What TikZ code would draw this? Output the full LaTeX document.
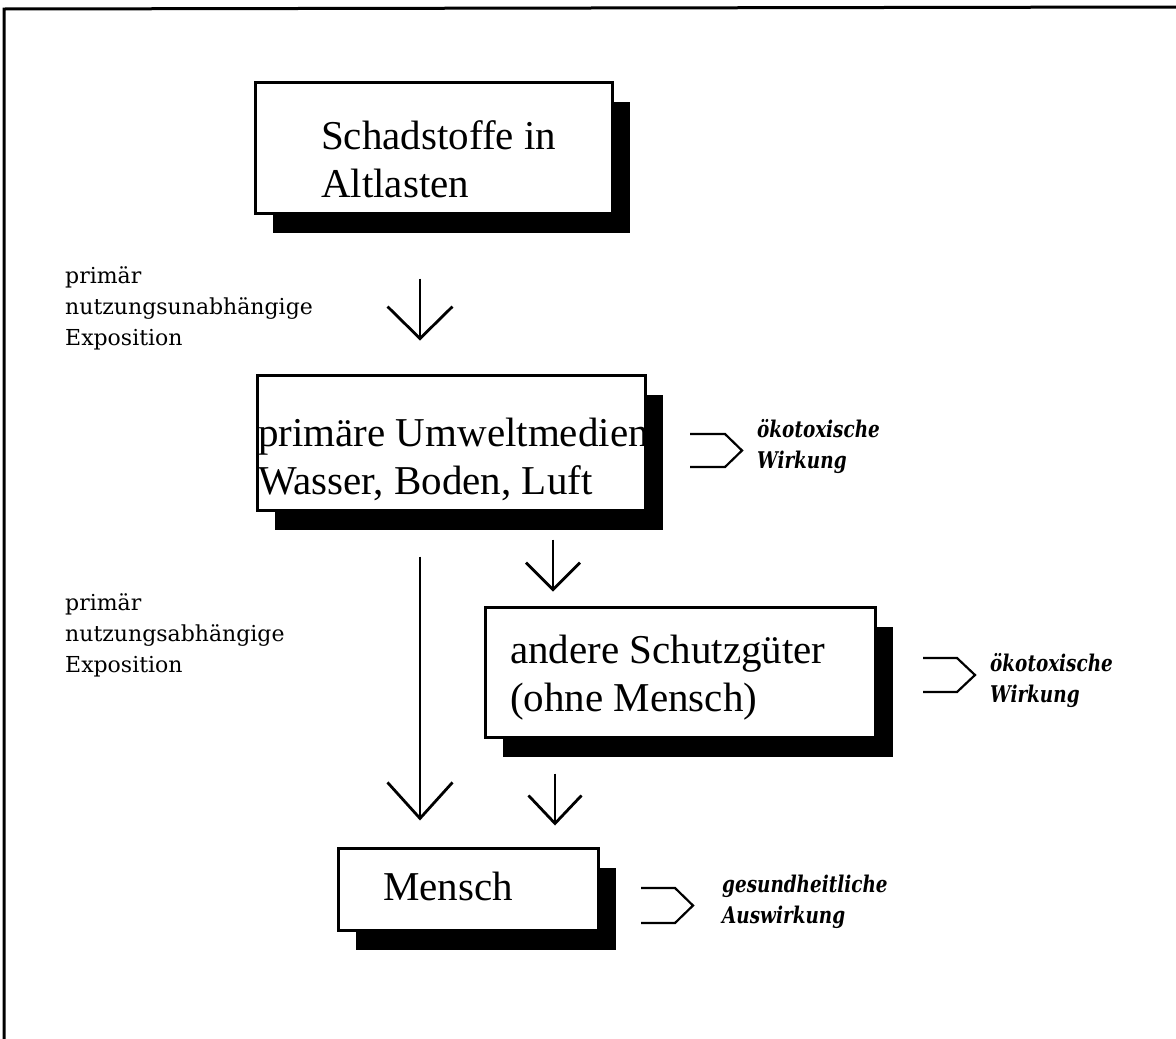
\documentclass[tikz,border=0pt]{standalone}
\usepackage{fontspec}
\setmainfont{Liberation Serif}
\newfontfamily\lblfont{DejaVu Serif}
\newfontfamily\itfont[FakeStretch=0.8]{DejaVu Serif}
\usetikzlibrary{arrows.meta,shadows}
\begin{document}
\begin{tikzpicture}[x=1pt,y=-1pt,
  boxstyle/.style={draw=black,line width=3pt,fill=white,inner sep=0pt,
    drop shadow={shadow xshift=18pt,shadow yshift=-20pt,opacity=1,fill=black}},
  boxtext/.style={anchor=base west,inner sep=0pt,align=left,
    font=\fontsize{41}{48}\selectfont},
  sidetext/.style={anchor=base west,inner sep=0pt,align=left,
    font=\lblfont\fontsize{22}{31}\selectfont},
  ittext/.style={anchor=base west,inner sep=0pt,align=left,
    font=\itfont\bfseries\itshape\fontsize{23}{31}\selectfont},
  flow/.style={line width=2.8pt},
  brk/.style={line width=2.2pt,line join=miter}
]
\useasboundingbox (0,0) rectangle (1176,1039);
% outer frame (top and left only)
\draw[line width=3pt] (4,1039) -- (4,9) -- (1176,7);

% boxes
\node[boxstyle,minimum width=357pt,minimum height=131pt] (b1) at (433.5,147.5) {};
\node[boxstyle,minimum width=388pt,minimum height=135pt] (b2) at (451,442.5) {};
\node[boxstyle,minimum width=390pt,minimum height=130pt] (b3) at (680,672) {};
\node[boxstyle,minimum width=260pt,minimum height=82pt] (b4) at (468,889) {};

% box texts (anchor = baseline of last line)
\node[boxtext] (t1) at (321,197) {Schadstoffe in\\Altlasten};
\node[boxtext] (t2) at (258,494) {primäre Umweltmedien\\Wasser, Boden, Luft};
\node[boxtext] (t3) at (510,711) {andere Schutzgüter\\(ohne Mensch)};
\node[boxtext] (t4) at (383,900) {Mensch};

% side labels
\node[sidetext] (s1) at (65,345) {primär\\nutzungsunabhängige\\Exposition};
\node[sidetext] (s2) at (65,672) {primär\\nutzungsabhängige\\Exposition};

% effect labels
\node[ittext] (e1) at (757,468) {ökotoxische\\Wirkung};
\node[ittext] (e2) at (990,702) {ökotoxische\\Wirkung};
\node[ittext] (e3) at (722,923) {gesundheitliche\\Auswirkung};

% flow arrows
\draw[flow,-{Straight Barb[length=32pt,width=65pt,line width=2.8pt]},
  shorten <=64pt,shorten >=33pt]
  ([xshift=-13.5pt]b1.south) -- ([xshift=-31pt]b2.north);
\draw[flow,-{Straight Barb[length=36pt,width=65pt,line width=2.8pt]},
  shorten <=45pt,shorten >=26pt]
  ([xshift=-31pt]b2.south) -- ([xshift=-48pt]b4.north);
\draw[flow,-{Straight Barb[length=27pt,width=54pt,line width=2.8pt]},
  shorten <=28pt,shorten >=14pt]
  ([xshift=102pt]b2.south) -- ([xshift=-127pt]b3.north);
\draw[flow,-{Straight Barb[length=28pt,width=53pt,line width=2.8pt]},
  shorten <=35pt,shorten >=21pt]
  ([xshift=-125pt]b3.south) -- ([xshift=87pt]b4.north);

% bracket pointers
\draw[brk] (690,434) -- (725,434) -- (742,450.5) -- (725,467) -- (690,467);
\draw[brk] (923,658) -- (957,658) -- (975,675) -- (957,692) -- (923,692);
\draw[brk] (641,888) -- (675,888) -- (693,905.5) -- (675,923) -- (641,923);
\end{tikzpicture}
\end{document}
